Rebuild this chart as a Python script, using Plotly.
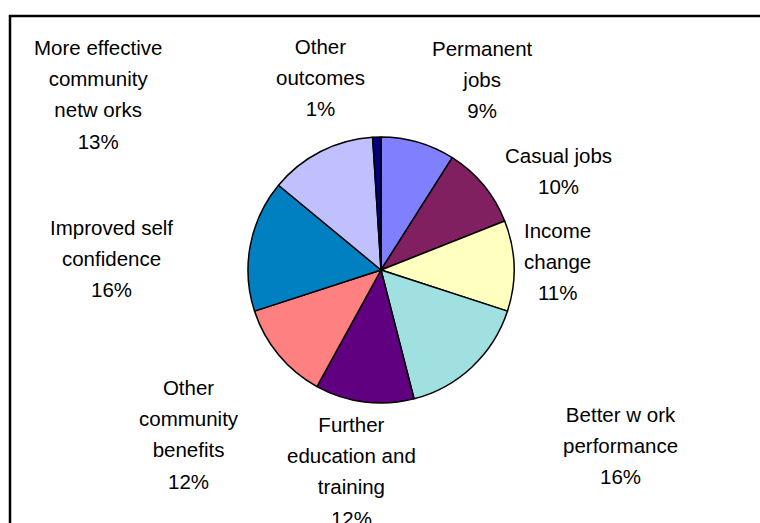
import plotly.graph_objects as go

# Outcome shares (per cent), clockwise from 12 o'clock
categories = [
    "Permanent jobs",
    "Casual jobs",
    "Income change",
    "Better work performance",
    "Further education and training",
    "Other community benefits",
    "Improved self confidence",
    "More effective community networks",
    "Other outcomes",
]
shares = [9, 10, 11, 16, 12, 12, 16, 13, 1]

# Wrapped label text, one entry per category
label_lines = [
    ["Permanent", "jobs"],
    ["Casual jobs"],
    ["Income", "change"],
    ["Better w ork", "performance"],
    ["Further", "education and", "training"],
    ["Other", "community", "benefits"],
    ["Improved self", "confidence"],
    ["More effective", "community", "netw orks"],
    ["Other", "outcomes"],
]

colors = ["#8080FF", "#802060", "#FFFFC0", "#A0E0E0", "#600080",
          "#FF8080", "#0080C0", "#C0C0FF", "#000080"]

W, H = 760, 523
cx, cy, r = 381, 270, 133

# Label block centres in pixels (x from left, y from top)
label_pos = [
    (482, 80), (558, 171), (557, 261), (620, 445), (351, 471),
    (189, 434), (112, 258), (98, 95), (320, 77),
]

fig = go.Figure(go.Pie(
    labels=categories,
    values=shares,
    sort=False,
    direction="clockwise",
    rotation=0,
    marker=dict(colors=colors, line=dict(color="black", width=1.5)),
    textinfo="none",
    hoverinfo="label+percent",
    showlegend=False,
    domain=dict(x=[(cx - r) / W, (cx + r) / W],
                y=[(H - cy - r) / H, (H - cy + r) / H]),
))

total = sum(shares)
for lines, val, (px, py) in zip(label_lines, shares, label_pos):
    pct = f"{round(100 * val / total)}%"
    body = "<br>".join(f"<span style='font-size:20.5px'>{t}</span>"
                       for t in lines + [pct])
    fig.add_annotation(
        x=px / W, y=1 - py / H, xref="paper", yref="paper",
        text=body, showarrow=False, align="center",
        xanchor="center", yanchor="middle",
        font=dict(family="Liberation Sans, Arial, sans-serif", size=24,
                  color="black"),
    )

# Chart-area frame (left and top edges fall inside the page)
fig.add_shape(type="rect", xref="paper", yref="paper",
              x0=10 / W, x1=1.2, y0=-0.2, y1=1 - 16 / H,
              line=dict(color="black", width=2.5), fillcolor="rgba(0,0,0,0)")

fig.update_layout(
    width=W, height=H,
    margin=dict(l=0, r=0, t=0, b=0),
    paper_bgcolor="white", plot_bgcolor="white",
)

fig.write_html("out.html")
